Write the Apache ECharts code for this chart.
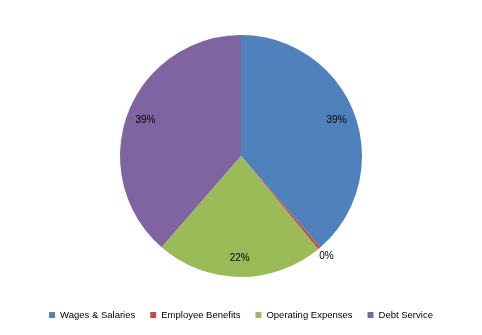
<!DOCTYPE html>
<html><head><meta charset="utf-8">
<script src="https://cdn.jsdelivr.net/npm/echarts@6/dist/echarts.min.js"></script>
<style>html,body{margin:0;padding:0;background:#fff}#c{width:482px;height:335px}</style>
</head><body><div id="c"></div>
<script>
const categories = ['Wages & Salaries', 'Employee Benefits', 'Operating Expenses', 'Debt Service'];
const values = [38.6, 0.4, 22.4, 38.6];
const colors = ['#4F81BD', '#C0504D', '#9BBB59', '#8064A2'];
const outsideLabelItems = ['Employee Benefits'];

const data = categories.map((n, i) => ({ name: n, value: values[i], itemStyle: { color: colors[i] } }));
const fmt = p => Math.round(p.percent) + '%';
const labelFont = { fontFamily: 'Liberation Sans', fontSize: 10, color: '#000' };
const center = [241, 156];

function overlay(radius, showFor) {
  return {
    type: 'pie', silent: true, center, radius: [0, radius], startAngle: 90, clockwise: true,
    animation: false, legendHoverLink: false,
    itemStyle: { color: 'rgba(0,0,0,0)', borderWidth: 0 },
    labelLine: { show: false },
    data: categories.map((n, i) => ({
      name: n + ' ', value: values[i],
      label: Object.assign({ show: showFor(n), position: 'inside', formatter: fmt }, labelFont)
    }))
  };
}

const chart = echarts.init(document.getElementById('c'), null, { renderer: 'canvas' });
chart.setOption({
  animation: false,
  color: colors,
  legend: {
    data: categories, bottom: 10, left: 'center', itemWidth: 6, itemHeight: 6, itemGap: 15,
    icon: 'rect', textStyle: { fontFamily: 'Liberation Sans', fontSize: 9.5, color: '#000' }
  },
  series: [
    {
      type: 'pie', center, radius: [0, 121], startAngle: 90, clockwise: true,
      label: { show: false }, labelLine: { show: false },
      itemStyle: { borderWidth: 0 }, data
    },
    overlay(198, n => !outsideLabelItems.includes(n)),
    overlay(258, n => outsideLabelItems.includes(n))
  ]
});
</script></body></html>
